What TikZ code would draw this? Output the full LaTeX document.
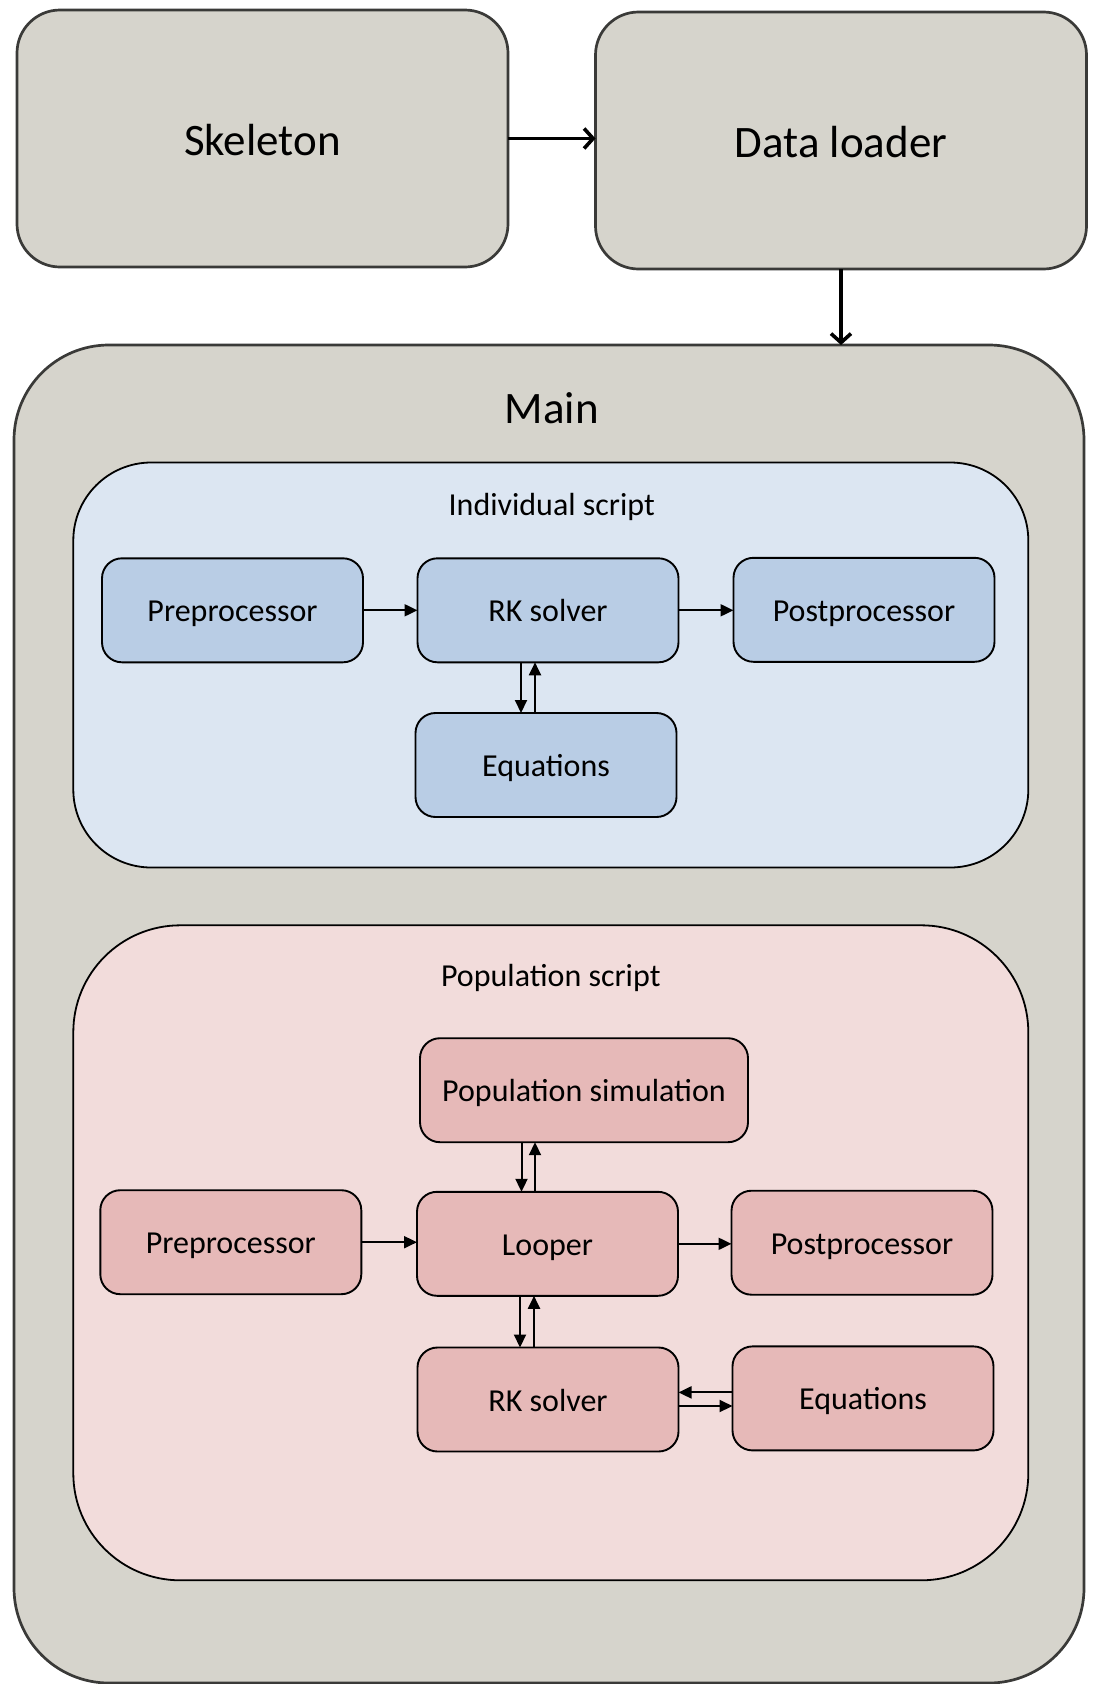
\documentclass[tikz,border=0pt]{standalone}
\usepackage{fontspec}
\setmainfont{Carlito}
\usetikzlibrary{arrows.meta,calc}
\definecolor{grayfill}{HTML}{D6D4CC}
\definecolor{grayline}{HTML}{3A3A38}
\definecolor{bluebg}{HTML}{DCE6F2}
\definecolor{bluebox}{HTML}{B9CDE5}
\definecolor{pinkbg}{HTML}{F2DCDB}
\definecolor{pinkbox}{HTML}{E6B9B8}
\tikzset{
  bigbox/.style={draw=grayline, line width=2.7pt, fill=grayfill, rounded corners=43pt,
    inner sep=0pt, outer sep=0pt, minimum width=491pt, minimum height=257pt,
    font=\fontsize{45}{54}\selectfont, text height=33.4pt, text depth=0pt},
  mainbox/.style={draw=grayline, line width=2.7pt, fill=grayfill, rounded corners=95pt,
    inner sep=0pt, outer sep=0pt},
  container/.style={draw=black, line width=1.8pt, inner sep=0pt, outer sep=0pt},
  smallbox/.style={draw=black, line width=1.9pt, rounded corners=20pt, inner sep=0pt,
    outer sep=0pt, minimum width=261pt, minimum height=104pt,
    font=\fontsize{32}{38}\selectfont, text height=23pt, text depth=0pt},
  bluesmall/.style={smallbox, fill=bluebox},
  pinksmall/.style={smallbox, fill=pinkbox},
  label32/.style={font=\fontsize{32}{38}\selectfont, inner sep=0pt, text height=23pt, text depth=0pt},
  label45/.style={font=\fontsize{45}{54}\selectfont, inner sep=0pt},
  bigarr/.style={line width=3.6pt, -{Straight Barb[length=9pt,width=20pt,line width=3.6pt]}},
  arr/.style={line width=2pt, -{Triangle[length=13pt,width=12pt]}}
}
\begin{document}
\begin{tikzpicture}[x=1pt,y=-1pt]
\useasboundingbox (0,0) rectangle (1094,1684);
% top boxes
\node[bigbox] (sk) at (262.5,138.5) {Skeleton};
\node[bigbox] (dl) at (841,140.5) {Data loader};
% main
\node[mainbox, minimum width=1070pt, minimum height=1338pt] (main) at (549,1014) {};
\node[label45] (maintxt) at (551.8,408) {Main};
% individual script
\node[container, fill=bluebg, rounded corners=78pt, minimum width=955pt, minimum height=405pt] (ind) at (550.8,665) {};
\node[label32] (indtxt) at (551.8,503.5) {Individual script};
\node[bluesmall] (pre1) at (232.5,610.3) {Preprocessor};
\node[bluesmall] (rk1) at (548,610.3) {RK solver};
\node[bluesmall] (post1) at (864,609.8) {Postprocessor};
\node[bluesmall] (eq1) at (546,765) {Equations};
% population script
\node[container, fill=pinkbg, rounded corners=107pt, minimum width=955pt, minimum height=655pt] (pop) at (550.8,1252.8) {};
\node[label32] (poptxt) at (550.8,974.8) {Population script};
\node[pinksmall, minimum width=328pt] (psim) at (584,1090.2) {Population simulation};
\node[pinksmall] (pre2) at (230.8,1242.2) {Preprocessor};
\node[pinksmall] (loop) at (547.5,1243.8) {Looper};
\node[pinksmall] (post2) at (862,1242.7) {Postprocessor};
\node[pinksmall] (rk2) at (548,1399.5) {RK solver};
\node[pinksmall] (eq2) at (863,1398.4) {Equations};
% big arrows
\draw[bigarr] (sk.east) -- (sk.east -| dl.west);
\draw[bigarr] (dl.south) -- (dl.south |- main.north);
% individual arrows
\draw[arr] (pre1.east) -- (pre1.east -| rk1.west);
\draw[arr] (rk1.east) -- (rk1.east -| post1.west);
\draw[arr] ([xshift=-27pt]rk1.south) -- ([xshift=-27pt]rk1.south |- eq1.north);
\draw[arr] ([xshift=-13pt]rk1.south |- eq1.north) -- ([xshift=-13pt]rk1.south);
% population arrows
\draw[arr] ([xshift=-26pt]loop.north |- psim.south) -- ([xshift=-26pt]loop.north);
\draw[arr] ([xshift=-12.5pt]loop.north) -- ([xshift=-12.5pt]loop.north |- psim.south);
\draw[arr] (pre2.east) -- (pre2.east -| loop.west);
\draw[arr] (loop.east) -- (loop.east -| post2.west);
\draw[arr] ([xshift=-27.5pt]loop.south) -- ([xshift=-27.5pt]loop.south |- rk2.north);
\draw[arr] ([xshift=-13.5pt]loop.south |- rk2.north) -- ([xshift=-13.5pt]loop.south);
\draw[arr] ([yshift=6pt]eq2.west) -- ([yshift=6pt]eq2.west -| rk2.east);
\draw[arr] ([yshift=-6.5pt]rk2.east) -- ([yshift=-6.5pt]rk2.east -| eq2.west);
\end{tikzpicture}
\end{document}
